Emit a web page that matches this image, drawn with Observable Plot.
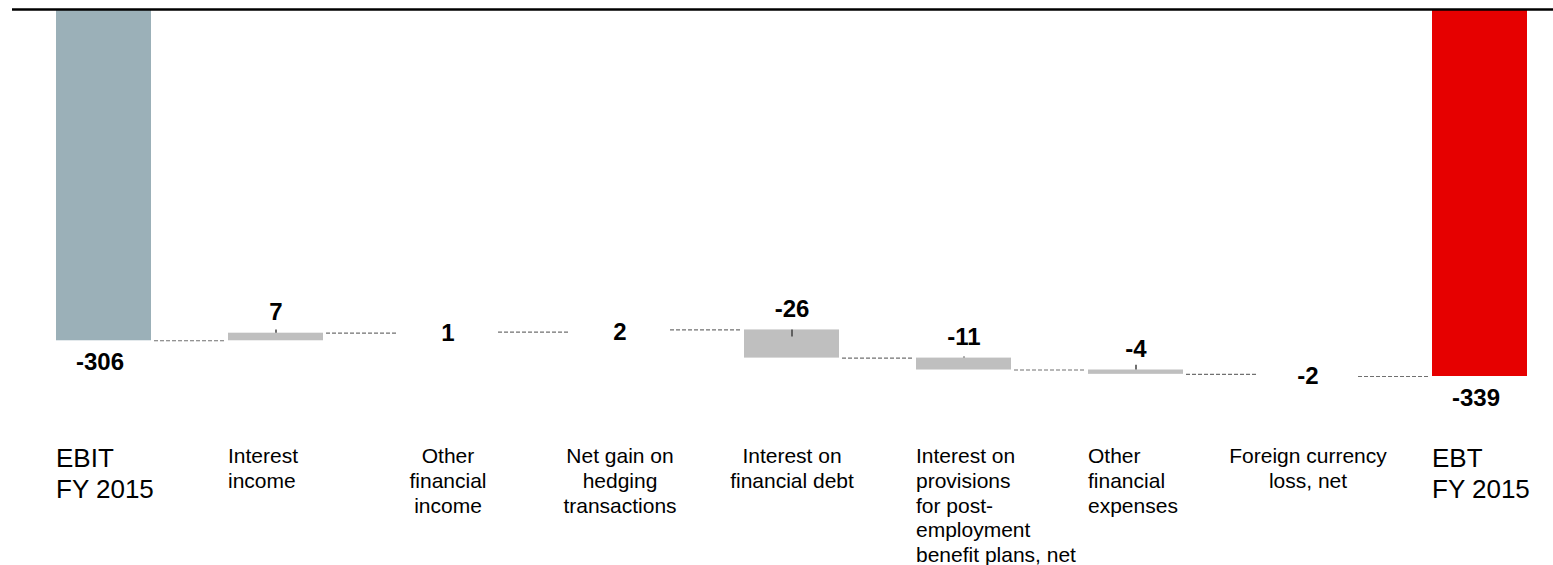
<!DOCTYPE html>
<html>
<head>
<meta charset="utf-8">
<script src="https://cdn.jsdelivr.net/npm/d3@7"></script>
<script src="https://cdn.jsdelivr.net/npm/@observablehq/plot@0.6"></script>
<style>
  html, body { margin: 0; padding: 0; background: #fff; }
  svg { display: block; }
</style>
</head>
<body>
<div id="chart"></div>
<script>
// ---- data ----
const categories = ["EBIT", "Interest income", "Other financial income", "Net gain on hedging transactions",
  "Interest on financial debt", "Interest on provisions", "Other financial expenses", "Foreign currency loss", "EBT"];
const labels = ["EBIT\nFY 2015", "Interest\nincome", "Other\nfinancial\nincome", "Net gain on\nhedging\ntransactions",
  "Interest on\nfinancial debt", "Interest on\nprovisions\nfor post-\nemployment\nbenefit plans, net",
  "Other\nfinancial\nexpenses", "Foreign currency\nloss, net", "EBT\nFY 2015"];
const values = [-306, 7, 1, 2, -26, -11, -4, -2, -339];
const kinds = ["start", "delta", "delta", "delta", "delta", "delta", "delta", "delta", "end"];

// ---- build waterfall table ----
let running = 0;
const rows = categories.map((c, i) => {
  const v = values[i];
  let y1, y2;
  if (kinds[i] === "delta") { y1 = running; y2 = running + v; }
  else { y1 = 0; y2 = v; }
  running = y2;
  return {cat: c, label: labels[i], value: v, kind: kinds[i], y1, y2,
          top: Math.max(y1, y2), mid: (y1 + y2) / 2, i};
});
const links = rows.slice(0, -1).map((r, i) => ({a: r.cat, b: rows[i + 1].cat, level: r.y2}));

// ---- styles / layout ----
const W = 1553, H = 565;
const xRange = [52, 1532], padInner = 0.445;
const step = (xRange[1] - xRange[0]) / (categories.length - padInner);
const bw = step * (1 - padInner);
const colors = {start: "#9bb0b8", delta: "#bfbfbf", end: "#e60000"};
const font = "Liberation Sans, Arial, sans-serif";
const isSmall = d => d.kind === "delta" && Math.abs(d.value) <= 2;

const labelStyle = [
  {size: 26, anchor: "start", dx: -48},
  {size: 21, anchor: "start", dx: -48},
  {size: 21, anchor: "middle", dx: 0},
  {size: 21, anchor: "middle", dx: 0},
  {size: 21, anchor: "middle", dx: 0},
  {size: 21, anchor: "start", dx: -48},
  {size: 21, anchor: "start", dx: -48},
  {size: 21, anchor: "middle", dx: 0},
  {size: 26, anchor: "start", dx: -48}
];

const labelMarks = rows.map((r, i) => Plot.text([r], {
  x: "cat", text: "label", frameAnchor: "bottom", lineAnchor: "top",
  textAnchor: labelStyle[i].anchor, dx: labelStyle[i].dx,
  fontSize: labelStyle[i].size, lineHeight: 1.18, fill: "#000", fontFamily: font
}));

const plot = Plot.plot({
  width: W,
  height: H,
  marginLeft: 12,
  marginRight: 0,
  marginTop: 0,
  marginBottom: 120,
  x: {type: "band", domain: categories, range: xRange, paddingInner: padInner, paddingOuter: 0, axis: null},
  y: {domain: [-339, 0], range: [376, 9], axis: null},
  marks: [
    Plot.barY(rows.filter(d => !isSmall(d)), {x: "cat", y1: "y1", y2: "y2", fill: d => colors[d.kind]}),
    Plot.ruleY(links, {x1: "a", x2: "b", y: "level", insetLeft: bw + 2, insetRight: bw + 2,
      stroke: "#707070", strokeWidth: 1.2, strokeDasharray: "4,2"}),
    Plot.ruleX(rows.filter(d => d.kind === "delta" && !isSmall(d)), {x: "cat", y1: "mid", y2: "top",
      insetTop: -7, stroke: "#404040", strokeWidth: 1.5}),
    Plot.ruleY([0], {stroke: "#000", strokeWidth: 2.5}),
    // value labels
    Plot.text(rows.filter(d => d.kind === "delta" && !isSmall(d)), {x: "cat", y: "top", dy: -21,
      text: d => String(d.value), fontSize: 24, fontWeight: "bold", fontFamily: font, fill: "#000"}),
    Plot.text(rows.filter(isSmall), {x: "cat", y: "mid", dy: 1,
      text: d => String(d.value), fontSize: 24, fontWeight: "bold", fontFamily: font, fill: "#000"}),
    Plot.text(rows.filter(d => d.kind !== "delta"), {x: "cat", y: "y2", dx: -4, dy: 22,
      text: d => String(d.value), fontSize: 24, fontWeight: "bold", fontFamily: font, fill: "#000"}),
    ...labelMarks
  ]
});
document.getElementById("chart").appendChild(plot);
</script>
</body>
</html>
